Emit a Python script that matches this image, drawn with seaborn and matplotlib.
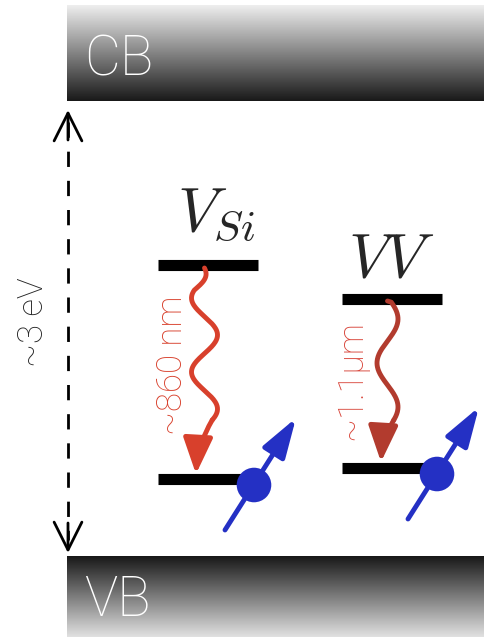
import numpy as np
import pandas as pd
import seaborn as sns
import matplotlib.pyplot as plt

sns.set_style("white")
plt.rcParams['mathtext.fontset'] = 'cm'

# band diagram data (pixel space of the picture)
bands = ['CB', 'VB']
band_top = [5, 556]
band_bottom = [101, 637]
defects = ['$V_{Si}$', '$VV$']
level_upper = [265, 299]
level_lower = [479, 468]
level_x = [158, 342]
emission = ['~860 nm', '~1.1µm']
emission_color = ['#d8402c', '#b23b2e']
text_color = ['#d8402c', '#d8453a']
gap_label = '~3 eV'

# wave shape per transition: start y, last wave y, centre x, amplitude, period, y of a crest
wave_y0 = [268, 301]
wave_y1 = [420, 420]
wave_xc = [204.5, 387.5]
wave_amp = [13, 10.5]
wave_period = [74, 88]
wave_crest = [335, 407]
wave_ramp = [22, 1]
wave_tip = [(196, 474), (381, 462)]

FONT = 'Roboto'
W = 'light'

fig = plt.figure(figsize=(4.85, 6.39), dpi=100)
ax = fig.add_axes([0, 0, 1, 1])
ax.set_xlim(0, 485)
ax.set_ylim(639, 0)
ax.axis('off')

# bands with grey gradients
grad = np.linspace(0, 1, 256).reshape(-1, 1)
ax.imshow(grad, cmap='gray_r', vmin=-0.08, vmax=1.12, aspect='auto',
          extent=[67, 485, band_bottom[0], band_top[0]], zorder=0)
ax.imshow(grad[::-1], cmap='gray_r', vmin=-0.15, vmax=1.12, aspect='auto',
          extent=[67, 485, band_bottom[1], band_top[1]], zorder=0)
ax.text(84, 60, bands[0], color='white', fontsize=40, family=FONT,
        fontweight=W, va='center', ha='left')
ax.text(84, 600, bands[1], color='white', fontsize=40, family=FONT,
        fontweight=W, va='center', ha='left')

# gap arrow
ax.plot([68, 68], [122, 540], color='black', lw=2, ls=(0, (5.5, 5)))
ax.annotate('', xy=(68, 110), xytext=(68, 140),
            arrowprops=dict(arrowstyle='->,head_length=0.5,head_width=0.25',
                            lw=2, color='black', mutation_scale=40,
                            shrinkA=0, shrinkB=0))
ax.annotate('', xy=(68, 553), xytext=(68, 523),
            arrowprops=dict(arrowstyle='->,head_length=0.5,head_width=0.25',
                            lw=2, color='black', mutation_scale=40,
                            shrinkA=0, shrinkB=0))
ax.text(33, 322, gap_label, rotation=90, fontsize=25, family=FONT,
        fontweight=W, va='center', ha='center')

label_pos = [(216, 230), (391, 277)]
text_pos = [(172, 365), (352, 380)]
for i in range(2):
    x0 = level_x[i]
    ax.plot([x0, x0 + 100], [level_upper[i]] * 2, color='black', lw=8,
            solid_capstyle='butt', zorder=2)
    ax.plot([x0, x0 + 95], [level_lower[i]] * 2, color='black', lw=8,
            solid_capstyle='butt', zorder=2)
    ax.text(label_pos[i][0], label_pos[i][1], defects[i], fontsize=45,
            ha='center', va='baseline')

    # wavy emission
    wy = np.linspace(wave_y0[i], wave_y1[i], 200)
    env = np.clip((wy - wave_y0[i]) / wave_ramp[i], 0, 1)
    wx = wave_xc[i] + wave_amp[i] * env * np.cos(2 * np.pi * (wy - wave_crest[i]) / wave_period[i])
    sns.lineplot(x=wx, y=wy, ax=ax, color=emission_color[i], lw=3.5,
                 sort=False, estimator=None)
    ax.annotate('', xy=wave_tip[i], xytext=(wx[-1], wy[-1]),
                arrowprops=dict(arrowstyle='-|>,head_length=1.1,head_width=0.45',
                                lw=3.5, color=emission_color[i], mutation_scale=20,
                                shrinkA=0, shrinkB=0,
                                connectionstyle='arc3,rad=0.12'))
    ax.text(text_pos[i][0], text_pos[i][1], emission[i],
            rotation=90, color=text_color[i], fontsize=25, family=FONT,
            fontweight=W, va='center', ha='center')

# spins
spin_center = [(254, 485), (437, 474)]
for cx, cy in spin_center:
    ax.annotate('', xy=(cx + 42, cy - 67), xytext=(cx - 29, cy + 45),
                arrowprops=dict(arrowstyle='-|>,head_length=1.1,head_width=0.35',
                                lw=3.5, color='#2430c4', mutation_scale=22,
                                shrinkA=0, shrinkB=0), zorder=4)
    ax.scatter([cx], [cy], s=620, color='#2430c4', zorder=5, edgecolors='none')

fig.savefig('out.png', dpi=100)
